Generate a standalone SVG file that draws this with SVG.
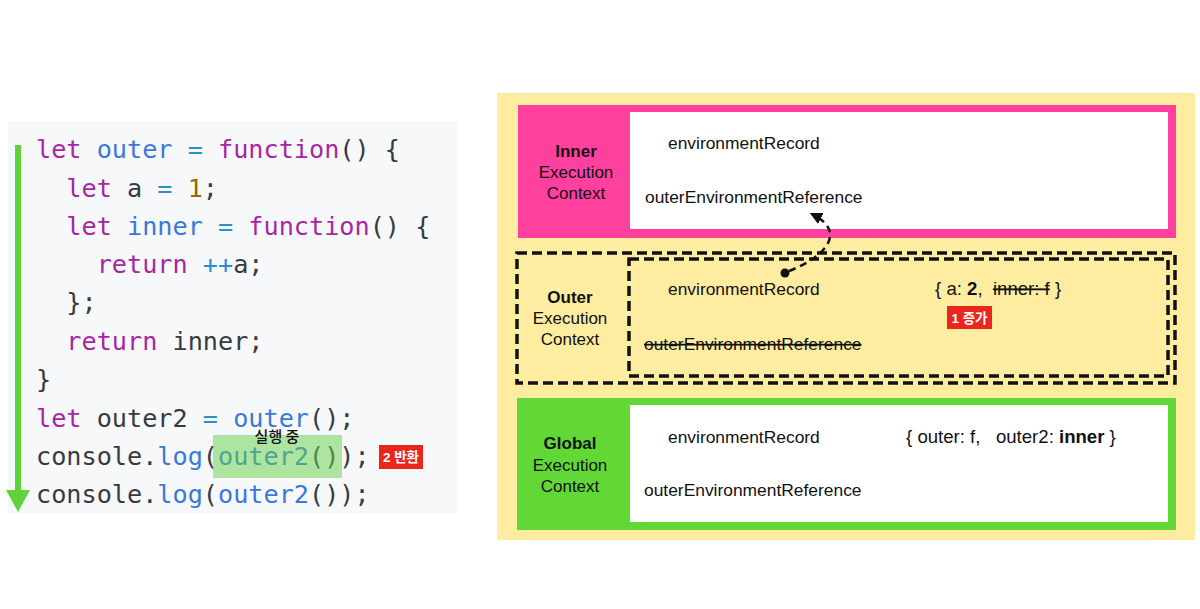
<svg xmlns="http://www.w3.org/2000/svg" width="1200" height="609" viewBox="0 0 1200 609">
  <style>
    text { white-space: pre; }
    .code { font-family: "DejaVu Sans Mono", "Liberation Mono", monospace; font-size: 25.2px; fill: #383a42; }
    .k { fill: #a626a4; }
    .b { fill: #3b78d8; }
    .o { fill: #2d8fc9; }
    .n { fill: #986801; }
    .lbl { font-family: "Liberation Sans", Arial, Helvetica, sans-serif; font-size: 17.4px; fill: #111; }
    .val { font-size: 18.6px; }
    .ctx { font-family: "Liberation Sans", Arial, Helvetica, sans-serif; font-size: 17px; fill: #111; text-anchor: middle; }
    .bold { font-weight: bold; }
    .badge { fill: #e8261b; }
    .badge-t { font-family: "Liberation Sans", "Noto Sans CJK KR", sans-serif; font-size: 13.5px; font-weight: bold; fill: #fff; text-anchor: middle; }
    .dash { fill: none; stroke: #111; stroke-width: 3.5; stroke-dasharray: 10 5; }
  </style>
  <defs>
    <marker id="tri" viewBox="0 0 10 10" refX="8" refY="5" markerWidth="5" markerHeight="5" orient="auto" markerUnits="strokeWidth">
      <path d="M0,0 L10,5 L0,10 z" fill="#111"/>
    </marker>
  </defs>

  <rect width="1200" height="609" fill="#ffffff"/>

  <!-- code listing -->
  <g id="code">
    <rect x="8" y="121" width="449" height="392" fill="#f6f8fa"/>
    <g class="code">
      <text xml:space="preserve" x="36" y="158"><tspan class="k">let</tspan> <tspan class="b">outer</tspan> <tspan class="o">=</tspan> <tspan class="k">function</tspan>() {</text>
      <text xml:space="preserve" x="36" y="196.5">  <tspan class="k">let</tspan> a <tspan class="o">=</tspan> <tspan class="n">1</tspan>;</text>
      <text xml:space="preserve" x="36" y="235">  <tspan class="k">let</tspan> <tspan class="b">inner</tspan> <tspan class="o">=</tspan> <tspan class="k">function</tspan>() {</text>
      <text xml:space="preserve" x="36" y="273">    <tspan class="k">return</tspan> <tspan class="o">++</tspan>a;</text>
      <text xml:space="preserve" x="36" y="311">  };</text>
      <text xml:space="preserve" x="36" y="350">  <tspan class="k">return</tspan> inner;</text>
      <text xml:space="preserve" x="36" y="388">}</text>
      <text xml:space="preserve" x="36" y="426.5"><tspan class="k">let</tspan> outer2 <tspan class="o">=</tspan> <tspan class="b">outer</tspan>();</text>
      <text xml:space="preserve" x="36" y="465">console.<tspan class="b">log</tspan>(<tspan class="b">outer2</tspan>());</text>
      <text xml:space="preserve" x="36" y="503">console.<tspan class="b">log</tspan>(<tspan class="b">outer2</tspan>());</text>
    </g>
    <!-- current call highlight -->
    <rect x="213" y="435" width="129" height="43" fill="#62cf45" opacity="0.5"/>
    <text x="277" y="442" font-family="'Noto Sans CJK KR', sans-serif" font-size="15" font-weight="500" fill="#111" text-anchor="middle">실행 중</text>
    <rect class="badge" x="379" y="445" width="44" height="24"/>
    <text class="badge-t" x="401" y="462">2 반환</text>
    <!-- execution flow arrow -->
    <line x1="18" y1="145" x2="18" y2="493" stroke="#5ed43a" stroke-width="6"/>
    <polygon points="6,490 30,490 18,512" fill="#5ed43a"/>
  </g>

  <!-- execution context stack -->
  <rect x="497" y="93" width="698" height="447" fill="#feeca0"/>

  <g id="inner-context">
    <rect x="518" y="105" width="658" height="133" fill="#ff409f"/>
    <rect x="630" y="112" width="538" height="117" fill="#ffffff"/>
    <text class="ctx bold" x="576" y="157">Inner</text>
    <text class="ctx" x="576" y="178">Execution</text>
    <text class="ctx" x="576" y="199">Context</text>
    <text class="lbl" x="668" y="149">environmentRecord</text>
    <text class="lbl" x="645" y="203">outerEnvironmentReference</text>
  </g>

  <g id="outer-context">
    <rect class="dash" x="517" y="253" width="658" height="130"/>
    <rect class="dash" x="629" y="259" width="539" height="117"/>
    <text class="ctx bold" x="570" y="303">Outer</text>
    <text class="ctx" x="570" y="324">Execution</text>
    <text class="ctx" x="570" y="345">Context</text>
    <text class="lbl" x="668" y="295">environmentRecord</text>
    <text class="lbl val" x="935" y="295" xml:space="preserve">{ a: <tspan class="bold">2</tspan>,  <tspan text-decoration="line-through">inner: f</tspan> }</text>
    <rect class="badge" x="947" y="306" width="45" height="23"/>
    <text class="badge-t" x="969.5" y="322.5">1 증가</text>
    <text class="lbl" x="644" y="350" text-decoration="line-through">outerEnvironmentReference</text>
  </g>

  <g id="global-context">
    <rect x="517" y="398" width="659" height="132" fill="#61d836"/>
    <rect x="630" y="405" width="538" height="117" fill="#ffffff"/>
    <text class="ctx bold" x="570" y="449">Global</text>
    <text class="ctx" x="570" y="471">Execution</text>
    <text class="ctx" x="570" y="492">Context</text>
    <text class="lbl" x="668" y="443">environmentRecord</text>
    <text class="lbl val" x="906" y="443" xml:space="preserve">{ outer: f,   outer2: <tspan class="bold">inner</tspan> }</text>
    <text class="lbl" x="644" y="496">outerEnvironmentReference</text>
  </g>

  <!-- reference link from outer record to inner's outer reference -->
  <g id="connectors">
    <circle cx="785" cy="273" r="4.5" fill="#111"/>
    <path d="M789 271 C825 257, 848 232, 812 214" fill="none" stroke="#111" stroke-width="2.5" stroke-dasharray="7 5" marker-end="url(#tri)"/>
  </g>
</svg>
